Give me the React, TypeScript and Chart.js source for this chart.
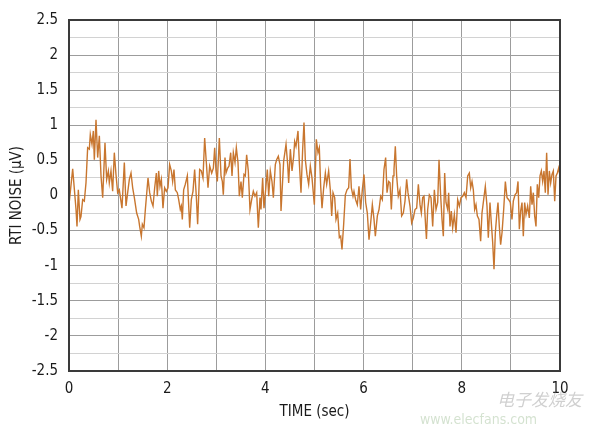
import React, { useEffect, useRef } from "react";
import { Chart, registerables } from "chart.js";

Chart.register(...registerables);

// Time axis (sec) of each sample
const times: number[] = [
  0, 0.075, 0.143, 0.163, 0.19, 0.224, 0.244, 0.278, 0.312, 0.346,
  0.38, 0.414, 0.434, 0.468, 0.496, 0.516, 0.55, 0.584, 0.618, 0.652,
  0.686, 0.733, 0.767, 0.801, 0.821, 0.855, 0.889, 0.923, 0.957, 0.991,
  1.025, 1.079, 1.127, 1.161, 1.195, 1.229, 1.263, 1.297, 1.331, 1.378, 1.419,
  1.439, 1.473, 1.494, 1.527, 1.555, 1.609, 1.643, 1.677, 1.711, 1.745,
  1.779, 1.799, 1.826, 1.853, 1.881, 1.914, 1.948, 1.982, 2.016, 2.05,
  2.084, 2.111, 2.138, 2.166, 2.206, 2.234, 2.267, 2.288, 2.308, 2.335,
  2.369, 2.41, 2.458, 2.491, 2.525, 2.559, 2.593, 2.62, 2.661, 2.695,
  2.729, 2.763, 2.797, 2.831, 2.865,
  2.906, 2.94, 2.967, 2.994, 3.021, 3.062, 3.096, 3.123, 3.143, 3.177,
  3.198, 3.232, 3.259, 3.293, 3.32, 3.347, 3.381, 3.408, 3.442, 3.469,
  3.503, 3.53, 3.564, 3.591, 3.618, 3.652, 3.686, 3.72, 3.754, 3.788,
  3.822, 3.856, 3.89, 3.91, 3.944, 3.971, 4.005, 4.039, 4.067, 4.1,
  4.134, 4.162, 4.202, 4.229, 4.263, 4.297, 4.318,
  4.372, 4.42, 4.454, 4.474, 4.508, 4.542, 4.576, 4.596, 4.623, 4.664,
  4.691, 4.725, 4.759, 4.786, 4.813, 4.847, 4.881, 4.915, 4.949, 4.997,
  5.037, 5.071, 5.098, 5.126, 5.153, 5.187, 5.221, 5.248, 5.288, 5.322,
  5.35, 5.377, 5.411, 5.438, 5.472, 5.506, 5.533, 5.56, 5.594, 5.628,
  5.662, 5.696, 5.723, 5.75, 5.784,
  5.804, 5.838, 5.872, 5.906, 5.94, 5.974, 6.008, 6.042, 6.076, 6.11,
  6.144, 6.178, 6.212, 6.239, 6.28, 6.314, 6.348, 6.381, 6.415, 6.449,
  6.477, 6.511, 6.538, 6.565, 6.599, 6.619, 6.646, 6.673, 6.707, 6.741,
  6.775, 6.809, 6.843, 6.877, 6.904, 6.945, 6.979, 7.013, 7.047, 7.081,
  7.115, 7.149, 7.176, 7.203, 7.23, 7.264,
  7.28, 7.305, 7.339, 7.373, 7.407, 7.441, 7.475, 7.509, 7.536, 7.57,
  7.597, 7.624, 7.651, 7.678, 7.712, 7.732, 7.76, 7.787, 7.814, 7.848,
  7.882, 7.916, 7.95, 7.984, 8.018, 8.052, 8.086, 8.12, 8.153, 8.181,
  8.208, 8.235, 8.262, 8.289, 8.316, 8.35, 8.384, 8.411, 8.445, 8.479,
  8.513, 8.54, 8.574, 8.601, 8.629, 8.656, 8.683, 8.71, 8.737,
  8.764, 8.791, 8.819, 8.853, 8.887, 8.921, 8.955, 8.988, 9.022, 9.049,
  9.084, 9.117, 9.145, 9.172, 9.199, 9.226, 9.253, 9.28, 9.308, 9.341,
  9.375, 9.403, 9.43, 9.457, 9.484, 9.511, 9.538, 9.566, 9.593, 9.62,
  9.647, 9.674, 9.701, 9.728, 9.756, 9.783, 9.81, 9.837, 9.864, 9.892,
  9.919, 9.946, 9.973, 10,
];

// RTI noise (µV) at each sample
const noise: number[] = [
  -0.13, 0.38, -0.2, -0.44, 0.08, -0.34, -0.3, -0.06, -0.08, 0.18,
  0.68, 0.66, 0.87, 0.73, 0.92, 0.51, 1.08, 0.54, 0.85, 0.28,
  -0.03, 0.75, 0.23, 0.35, 0.18, 0.35, 0.06, 0.61, 0.3, 0.04,
  0.08, -0.18, 0.47, -0.15, 0.04, 0.23, 0.32, 0.11, -0.03, -0.25, -0.34,
  -0.44, -0.58, -0.41, -0.46, -0.2, 0.25, 0.04, -0.08, -0.15, 0.11,
  0.32, -0.01, 0.35, 0.13, 0.23, -0.18, 0.11, 0.06, 0.11, 0.44,
  0.35, 0.2, 0.37, 0.08, 0.04, -0.06, -0.2, -0.15, -0.34, 0.08,
  0.16, 0.28, -0.46, -0.06, 0.06, 0.37, -0.01, -0.41, 0.37, 0.35,
  0.25, 0.82, 0.47, 0.11, 0.42,
  0.32, 0.39, 0.68, 0.35, 0.2, 0.82, 0.28, 0.2, 0.01, 0.54,
  0.32, 0.39, 0.42, 0.61, 0.28, 0.61, 0.47, 0.68, 0.47, -0.01,
  0.2, -0.03, 0.3, 0.28, 0.58, 0.35, -0.2, -0.06, 0.06, -0.01,
  0.04, -0.46, -0.03, -0.2, 0.25, -0.18, 0.08, 0.37, -0.01, 0.35,
  0.2, -0.03, 0.44, 0.51, 0.56, 0.44, -0.22,
  0.49, 0.73, 0.44, 0.18, 0.66, 0.35, 0.56, 0.77, 0.7, 0.92,
  0.47, 0.04, 0.66, 1.04, 0.51, 0.3, 0.16, 0.42, 0.25, -0.13,
  0.8, 0.61, 0.68, 0.13, -0.18, 0.11, 0.32, 0.16, 0.35, 0.08,
  -0.29, 0.04, -0.03, -0.34, -0.25, -0.6, -0.58, -0.77, -0.41, 0.01,
  0.08, 0.11, 0.52, 0.11, -0.01,
  0.06, -0.06, -0.13, 0.13, -0.2, 0.08, 0.3, -0.1, -0.25, -0.63,
  -0.39, -0.13, -0.34, -0.58, -0.29, -0.2, -0.01, -0.06, 0.37, 0.54,
  0.04, 0.2, 0.18, -0.2, 0.28, 0.37, 0.7, 0.28, -0.01, 0.08,
  -0.29, -0.25, -0.08, 0.23, 0.04, -0.15, -0.39, -0.32, -0.2, -0.18,
  0.16, -0.13, -0.25, -0.03, -0.01, -0.44,
  -0.62, -0.2, 0.01, -0.03, -0.44, 0.08, -0.2, -0.1, 0.51, -0.01,
  -0.34, -0.58, 0.32, -0.1, -0.2, 0.04, -0.44, -0.22, -0.46, -0.27,
  -0.53, -0.06, -0.15, -0.03, -0.01, 0.04, -0.03, 0.28, 0.32, 0.11,
  0.2, 0.08, -0.2, -0.13, -0.29, -0.34, -0.65, -0.25, -0.06, 0.13,
  -0.15, -0.6, -0.1, -0.39, -0.67, -1.05, -0.53, -0.29, -0.1,
  -0.44, -0.7, -0.53, -0.2, 0.2, -0.03, -0.06, -0.1, -0.34, -0.08,
  0.01, 0.04, 0.2, -0.48, -0.22, -0.1, -0.58, -0.1, -0.27, -0.15,
  -0.32, 0.13, -0.13, 0.04, -0.29, -0.44, 0.16, -0.03, 0.28, 0.35,
  0.2, 0.35, 0.04, 0.61, 0.01, 0.35, 0.18, 0.3, 0.35, -0.08,
  0.28, 0.32, 0.39, 0.28,
];

const xTickLabels: number[] = [0, 2, 4, 6, 8, 10];
const yTickLabels: number[] = [2.5, 2, 1.5, 1, 0.5, 0, -0.5, -1, -1.5, -2, -2.5];

const FONT = "'Liberation Sans Narrow', 'DejaVu Sans Condensed', 'Roboto Condensed', 'Liberation Sans', Arial, sans-serif";

const framePlugin = {
  id: "frame",
  afterDatasetsDraw(chart: any) {
    const { ctx, chartArea } = chart;
    ctx.save();
    ctx.strokeStyle = "#3a3a3a";
    ctx.lineWidth = 2;
    ctx.strokeRect(chartArea.left, chartArea.top, chartArea.right - chartArea.left, chartArea.bottom - chartArea.top);
    ctx.restore();
  },
};

export default function App() {
  const ref = useRef<HTMLCanvasElement | null>(null);

  useEffect(() => {
    if (!ref.current) return;
    const n = Math.min(times.length, noise.length);
    const points = [];
    for (let i = 0; i < n; i++) points.push({ x: times[i], y: noise[i] });

    const isHalf = (v: number) => Math.abs(v * 2 - Math.round(v * 2)) < 1e-6;

    const chart = new Chart(ref.current, {
      type: "line",
      data: {
        datasets: [
          {
            data: points,
            borderColor: "#c8762f",
            borderWidth: 1.4,
            pointRadius: 0,
            tension: 0,
            fill: false,
          },
        ],
      },
      options: {
        animation: false,
        responsive: true,
        maintainAspectRatio: false,
        layout: { padding: { left: 6, top: 20, right: 42, bottom: 10 } },
        plugins: { legend: { display: false }, tooltip: { enabled: false } },
        scales: {
          x: {
            type: "linear",
            min: 0,
            max: 10,
            afterFit: (s: any) => { s.height = 52; },
            ticks: {
              stepSize: 1,
              autoSkip: false,
              maxRotation: 0,
              padding: 9,
              color: "#1a1a1a",
              font: { family: FONT, size: 15 },
              callback: (v: any) => (xTickLabels.includes(Number(v)) ? String(v) : ""),
            },
            grid: { color: "#9c9c9c", lineWidth: 1, drawTicks: false },
            border: { display: true, color: "#3a3a3a", width: 2 },
            title: {
              display: true,
              text: "TIME (sec)",
              color: "#1a1a1a",
              font: { family: FONT, size: 15 },
              padding: { top: 0, bottom: 2 },
            },
          },
          y: {
            type: "linear",
            min: -2.5,
            max: 2.5,
            afterFit: (s: any) => { s.width = 63; },
            ticks: {
              stepSize: 0.25,
              autoSkip: false,
              padding: 11,
              color: "#1a1a1a",
              font: { family: FONT, size: 15 },
              callback: (v: any) => {
                const val = Math.round(Number(v) * 100) / 100;
                return isHalf(val) && yTickLabels.includes(val) ? String(val) : "";
              },
            },
            grid: {
              color: (c: any) => (isHalf(c.tick.value) ? "#9c9c9c" : "#d2d2d2"),
              lineWidth: 1,
              drawTicks: false,
            },
            border: { display: true, color: "#3a3a3a", width: 2 },
            title: {
              display: true,
              text: "RTI NOISE (µV)",
              color: "#1a1a1a",
              font: { family: FONT, size: 15 },
              padding: { top: 2, bottom: 0 },
            },
          },
        },
      },
      plugins: [framePlugin],
    });
    return () => chart.destroy();
  }, []);

  return (
    <div style={{ position: "fixed", left: 0, top: 0, width: 602, height: 433, background: "#fff" }}>
      <canvas ref={ref} />
      <div
        style={{
          position: "absolute",
          left: 497,
          top: 386,
          fontFamily: "'Noto Sans CJK SC', sans-serif",
          fontSize: 17,
          fontStyle: "italic",
          color: "rgba(150,150,150,0.45)",
          pointerEvents: "none",
        }}
      >
        电子发烧友
      </div>
      <div
        style={{
          position: "absolute",
          left: 420,
          top: 411,
          fontFamily: "'Liberation Sans Narrow', 'DejaVu Sans Condensed', sans-serif",
          fontSize: 14,
          color: "rgba(160,190,150,0.45)",
          pointerEvents: "none",
        }}
      >
        www.elecfans.com
      </div>
    </div>
  );
}
